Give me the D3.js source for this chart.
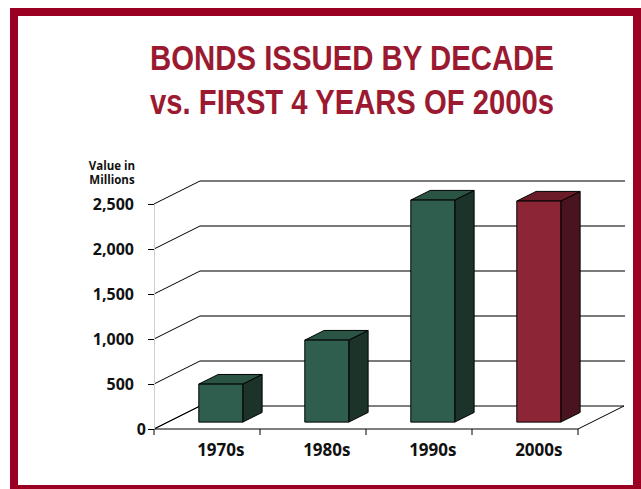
<!DOCTYPE html>
<html>
<head>
<meta charset="utf-8">
<script src="https://cdn.jsdelivr.net/npm/d3@7/dist/d3.min.js"></script>
<style>
  html, body { margin: 0; padding: 0; background: #fff; }
  svg { display: block; }
  text { font-family: "Open Sans", "DejaVu Sans", sans-serif; font-weight: 700; }
</style>
</head>
<body>
<script>
// Bonds issued per decade (millions)
const categories = ["1970s", "1980s", "1990s", "2000s"];
const values = [422, 911, 2467, 2456];
const barColors = ["green", "green", "green", "red"];
const yTicks = [0, 500, 1000, 1500, 2000, 2500];
const titleLines = ["BONDS ISSUED BY DECADE", "vs. FIRST 4 YEARS OF 2000s"];
const axisTitle = ["Value in", "Millions"];

const W = 641, H = 489;
const svg = d3.select("body").append("svg").attr("width", W).attr("height", H);

// frame
svg.append("rect")
  .attr("x", 14).attr("y", 12).attr("width", 623).attr("height", 477)
  .attr("fill", "#fff").attr("stroke", "#9a0022").attr("stroke-width", 8);

// title, narrowed horizontally to a condensed look
const titleWidth = 404;
titleLines.forEach((t, i) => {
  const tg = svg.append("g").attr("transform", `translate(352,${70 + i * 44})`);
  const txt = tg.append("text")
    .attr("text-anchor", "middle")
    .style("font-family", "'Liberation Sans', Arial, sans-serif")
    .style("font-size", "36px")
    .attr("fill", "#9b1a31")
    .text(t);
  const natural = txt.node().getComputedTextLength();
  txt.attr("transform", `scale(${Math.min(1, titleWidth / natural)},1)`);
});

// plot geometry (front plane + depth offset)
const plotLeft = 154, plotRight = 578, plotBase = 429, plotTop = 204;
const DX = 46, DY = -23;
const fFront = 0.3, fDepth = 0.42;

const x = d3.scaleBand().domain(categories).range([plotLeft, plotRight])
  .paddingInner(0.585).paddingOuter(0.2925);
const y = d3.scaleLinear().domain([0, 2500]).range([plotBase, plotTop]);

const g = svg.append("g");

// back wall gridlines + left wall diagonals
yTicks.forEach(v => {
  const yy = y(v);
  if (v > 0) {
    g.append("line")
      .attr("x1", plotLeft + DX).attr("y1", yy + DY)
      .attr("x2", plotRight + DX + 1).attr("y2", yy + DY)
      .attr("stroke", "#7a7a7a").attr("stroke-width", 2);
  }
  g.append("line")
    .attr("x1", plotLeft).attr("y1", yy)
    .attr("x2", plotLeft + DX).attr("y2", yy + DY)
    .attr("stroke", "#000").attr("stroke-width", 1);
});

// floor
const floor = [[plotLeft, plotBase], [plotLeft + DX, plotBase + DY], [plotRight + DX, plotBase + DY], [plotRight, plotBase]];
g.append("path")
  .attr("d", d3.line()(floor) + "Z")
  .attr("fill", "none").attr("stroke", "#000").attr("stroke-width", 1);

// y axis
const yAxis = d3.axisLeft(y).tickValues(yTicks).tickFormat(d3.format(",")).tickSize(6).tickPadding(14);
const ya = svg.append("g").attr("transform", `translate(${plotLeft},0)`).call(yAxis);
ya.select(".domain").attr("stroke", "#cfcfcf");
ya.selectAll(".tick line").attr("stroke", "#000");
ya.selectAll(".tick text")
  .style("font-size", "16px").attr("fill", "#111");
ya.selectAll(".tick").filter(d => d === 0).select("text").attr("x", -8);

// axis title
axisTitle.forEach((t, i) => {
  svg.append("text")
    .attr("x", 112).attr("y", 170 + i * 14)
    .attr("text-anchor", "middle").style("font-size", "11.5px").attr("fill", "#111")
    .text(t);
});

// x axis ticks at band boundaries
const step = x.step();
const edges = categories.map(c => x(c) - step * x.paddingInner() / 2).concat([plotRight]);
edges[0] = plotLeft;
svg.append("g").selectAll("line").data(edges).join("line")
  .attr("x1", d => d).attr("x2", d => d)
  .attr("y1", plotBase).attr("y2", plotBase + 6)
  .attr("stroke", "#000");

// bars
const palette = {
  green: { front: "#2f5e4f", side: "#1b3329", top: "#2a5444" },
  red:   { front: "#8c2535", side: "#4a141e", top: "#6c1c29" }
};
const bw = x.bandwidth();
const bdx = DX * fDepth, bdy = DY * fDepth;
categories.forEach((c, i) => {
  const col = palette[barColors[i]];
  const x0 = x(c) + DX * fFront;
  const yb = y(0) + DY * fFront;
  const yt = y(values[i]) + DY * fFront;
  const x1 = x0 + bw;
  const bar = g.append("g").attr("stroke", "#000").attr("stroke-width", 1).attr("stroke-linejoin", "round");
  bar.append("path")
    .attr("d", d3.line()([[x1, yb], [x1, yt], [x1 + bdx, yt + bdy], [x1 + bdx, yb + bdy]]) + "Z")
    .attr("fill", col.side);
  bar.append("path")
    .attr("d", d3.line()([[x0, yt], [x1, yt], [x1 + bdx, yt + bdy], [x0 + bdx, yt + bdy]]) + "Z")
    .attr("fill", col.top);
  bar.append("rect")
    .attr("x", x0).attr("y", yt).attr("width", bw).attr("height", yb - yt)
    .attr("fill", col.front);
});

// category labels
svg.append("g").selectAll("text").data(categories).join("text")
  .attr("x", c => x(c) + DX * fFront + bw / 2)
  .attr("y", 456)
  .attr("text-anchor", "middle").style("font-size", "17px").attr("fill", "#111")
  .text(c => c);
</script>
</body>
</html>
